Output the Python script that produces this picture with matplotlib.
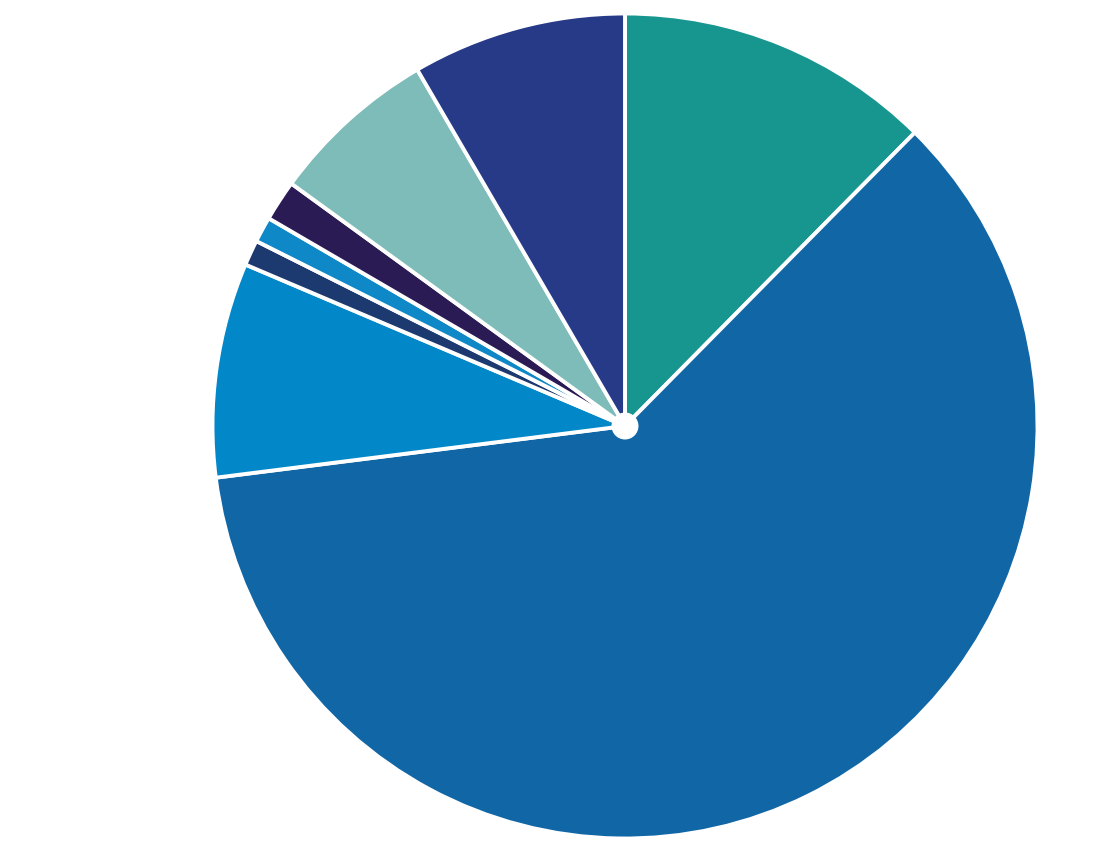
import matplotlib
matplotlib.use("Agg")
import matplotlib.pyplot as plt

# slice shares (percent), clockwise from 12 o'clock
labels = ["A", "B", "C", "D", "E", "F", "G", "H"]
shares = [12.4, 60.6, 8.4, 1.0, 1.0, 1.6, 6.6, 8.4]
colors = ["#17968f", "#1166a6", "#0288c9", "#1c3a6f",
          "#0f88c8", "#2b1b55", "#7dbcb8", "#263a87"]

W, H = 1109, 860
cx, cy, r = 625, 426, 412.5

fig = plt.figure(figsize=(W / 100, H / 100), dpi=100)
ax = fig.add_axes([(cx - r) / W, (H - cy - r) / H, 2 * r / W, 2 * r / H])
ax.pie(shares, colors=colors, startangle=90, counterclock=False, radius=1,
       wedgeprops=dict(edgecolor="white", linewidth=2.8))
ax.add_patch(plt.Circle((0, 0), 0.031, color="white", zorder=5))
ax.set_xlim(-1, 1)
ax.set_ylim(-1, 1)
ax.set_aspect("equal")
ax.axis("off")

fig.savefig("out.png", dpi=100)
